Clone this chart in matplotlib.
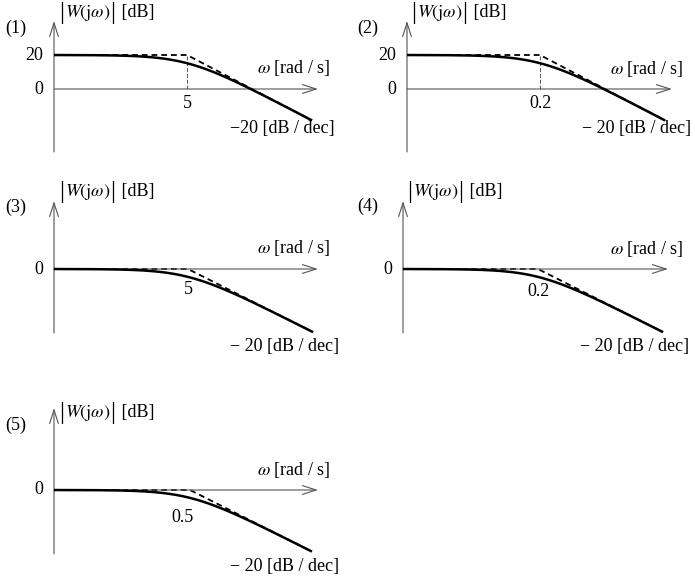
import numpy as np
import matplotlib
matplotlib.use("Agg")
import matplotlib.pyplot as plt

# ---------------------------------------------------------------------------
# Data: first-order lag sketches, one per panel
# ---------------------------------------------------------------------------
PANEL_IDS = ["(1)", "(2)", "(3)", "(4)", "(5)"]
GAIN_DB = [20, 20, 0, 0, 0]
CORNER_W = [5.0, 0.2, 5.0, 0.2, 0.5]
CORNER_LABELS = ["5", "0.2", "5", "0.2", "0.5"]
GAIN_LABELS = [["20", "0"], ["20", "0"], ["0"], ["0"], ["0"]]
GAIN_TICKS = [[20, 0], [20, 0], [0], [0], [0]]
SLOPE_DB_DEC = -20
SLOPE_LABELS = ["\u221220 [dB / dec]", "\u2212 20 [dB / dec]", "\u2212 20 [dB / dec]",
                "\u2212 20 [dB / dec]", "\u2212 20 [dB / dec]"]
# y title is built from pieces so the |...| bars can be tall and thin
Y_TITLE_PARTS = ["|", r"$W(\mathrm{j}\omega)$", "|", " [dB]"]
X_TITLE = r"$\omega$ [rad / s]"

# the hand-drawn curve bends more softly than the true first-order lag
SKETCH_SOFTNESS = 1.6

# ---------------------------------------------------------------------------
# Layout (pixels in a 695 x 576 canvas)
# ---------------------------------------------------------------------------
W_PX, H_PX = 695, 576
LAYOUT = [
    # axis x, arrow end, top tip, bottom, zero line, corner, curve end, px/dB, label offset
    dict(ax=54, end=318, top=21, bot=152, zero=89, corner=187, cend=312, dbpx=1.7, lab=(0, -15),
         num=(5, 28), title=(59, 13), wlab=(257, 68), slab=(230, 129)),
    dict(ax=407, end=672, top=21, bot=152, zero=89, corner=540, cend=665, dbpx=1.7, lab=(0, -15),
         num=(357, 28), title=(411, 13), wlab=(610, 69), slab=(582, 128)),
    dict(ax=54, end=318, top=201, bot=333, zero=269, corner=188, cend=313, dbpx=1.64, lab=(0, -21),
         num=(5, 207), title=(59, 192), wlab=(257, 248), slab=(230, 346)),
    dict(ax=403, end=668, top=201, bot=333, zero=269, corner=538, cend=663, dbpx=1.64, lab=(0, -23),
         num=(357, 206), title=(407, 192), wlab=(610, 249), slab=(580, 346)),
    dict(ax=54, end=318, top=408, bot=554, zero=490, corner=190, cend=312, dbpx=1.64, lab=(-7, -27),
         num=(5, 425), title=(59, 413), wlab=(257, 470), slab=(230, 566)),
]
DEC_PX = 65.0

plt.rcParams["font.family"] = ["Liberation Serif", "DejaVu Serif"]
plt.rcParams["mathtext.fontset"] = "stix"
FS = 13
BAR_FS = 18
AXIS_COLOR = "#555555"

fig = plt.figure(figsize=(W_PX / 100, H_PX / 100), dpi=100)
renderer = fig.canvas.get_renderer()


def fx(x):
    return x / W_PX


def fy(y):
    return 1 - y / H_PX


def y_title(x0, yc):
    """Place |W(jw)| [dB] piece by piece, left to right."""
    x = x0
    for part in Y_TITLE_PARTS:
        size = BAR_FS if part == "|" else FS
        t = fig.text(fx(x), fy(yc), part, ha="left", va="center", fontsize=size,
                     fontweight="light")
        bb = t.get_window_extent(renderer)
        x += bb.width + (1 if part == "|" else 0)


for i, lay in enumerate(LAYOUT):
    wc = CORNER_W[i]
    gain = GAIN_DB[i]
    ax = fig.add_axes([fx(lay["ax"]), fy(lay["bot"]),
                       (lay["end"] - lay["ax"]) / W_PX, (lay["bot"] - lay["top"]) / H_PX])
    ax.set_xscale("log")
    lw = np.log10(wc)
    x_lo = 10 ** (lw - (lay["corner"] - lay["ax"]) / DEC_PX)
    x_hi = 10 ** (lw + (lay["end"] - lay["corner"]) / DEC_PX)
    w_end = 10 ** (lw + (lay["cend"] - lay["corner"]) / DEC_PX)
    ax.set_xlim(x_lo, x_hi)
    ax.set_ylim(-(lay["bot"] - lay["zero"]) / lay["dbpx"], (lay["zero"] - lay["top"]) / lay["dbpx"])
    ax.axis("off")

    # axes with open arrow heads
    arrow = dict(arrowstyle="->,head_length=1.1,head_width=0.35", color=AXIS_COLOR,
                 lw=0.8, mutation_scale=9, shrinkA=0, shrinkB=0)
    ax.annotate("", xy=(1.0, 0), xytext=(0, 0), xycoords=("axes fraction", "data"),
                textcoords=("axes fraction", "data"), arrowprops=arrow)
    ax.annotate("", xy=(0, 1.0), xytext=(0, 0), xycoords="axes fraction",
                arrowprops=arrow)

    # asymptotes (dashed) and sketched curve (solid)
    w_asym = np.array([x_lo, wc, w_end])
    m_asym = np.array([gain, gain, gain + SLOPE_DB_DEC * np.log10(w_end / wc)])
    ax.plot(w_asym, m_asym, color="black", lw=1.3, ls=(0, (3.2, 2.2)), zorder=2, clip_on=False)
    w = np.logspace(np.log10(x_lo), np.log10(w_end), 400)
    k = SKETCH_SOFTNESS
    mag = gain + SLOPE_DB_DEC / 2 * k * np.log10(1 + (w / wc) ** (2 / k))
    ax.plot(w, mag, color="black", lw=1.8, zorder=3, solid_capstyle="butt", clip_on=False)
    if gain != 0:
        ax.plot([wc, wc], [0, gain], color=AXIS_COLOR, lw=0.7, ls=(0, (4, 2)), zorder=1)

    # labels
    for t, s in zip(GAIN_TICKS[i], GAIN_LABELS[i]):
        ax.annotate(s, xy=(x_lo, t), xytext=(-11, 0), textcoords="offset pixels",
                    ha="right", va="center", fontsize=FS)
    ax.annotate(CORNER_LABELS[i], xy=(wc, 0), xytext=lay["lab"], textcoords="offset pixels",
                ha="center", va="center", fontsize=FS)

    fig.text(fx(lay["num"][0]), fy(lay["num"][1]), PANEL_IDS[i], ha="left", va="center", fontsize=FS)
    y_title(lay["title"][0], lay["title"][1])
    fig.text(fx(lay["wlab"][0]), fy(lay["wlab"][1]), X_TITLE, ha="left", va="center", fontsize=FS)
    fig.text(fx(lay["slab"][0]), fy(lay["slab"][1]), SLOPE_LABELS[i], ha="left", va="center", fontsize=FS)

fig.savefig("out.png", dpi=100, facecolor="white")
